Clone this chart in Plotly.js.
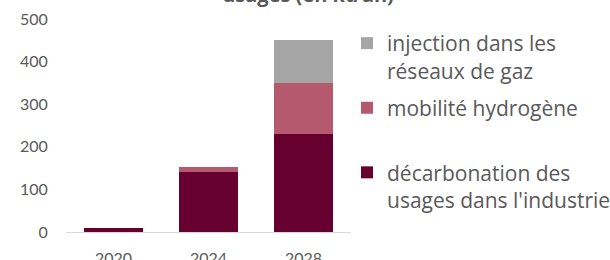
<!DOCTYPE html>
<html>
<head>
<meta charset="utf-8">
<script src="https://cdn.plot.ly/plotly-3.0.1.min.js"></script>
<style>html,body{margin:0;padding:0;background:#fff;}#chart{width:610px;height:260px;}</style>
</head>
<body>
<div id="chart"></div>
<script>
const years = ["2020", "2024", "2028"];
const decarbonation = [10, 142, 230];
const mobilite = [0, 10, 120];
const injection = [0, 0, 100];
const seriesNames = ["décarbonation des<br>usages dans l'industrie", "mobilité hydrogène<br> ", "injection dans les<br>réseaux de gaz"];
const seriesColors = ["#65002F", "#B5596E", "#A5A5A5"];
const legendRanks = [3, 2, 1];
const yTicks = [0, 100, 200, 300, 400, 500];
const titleText = "usages (en kt/an)";

const FONT = "Lato, 'Open Sans', sans-serif";
const LFONT = "'Open Sans', sans-serif";
const TXT = "#595959";

const values = [decarbonation, mobilite, injection];
const traces = values.map((v, i) => ({
  type: "bar",
  x: years,
  y: v,
  name: seriesNames[i],
  legendgroup: "g" + i,
  legendrank: legendRanks[i],
  marker: {color: seriesColors[i], line: {width: 0}},
  hoverinfo: "x+y+name"
}));

const layout = {
  width: 610, height: 260,
  margin: {l: 66, r: 259, t: 19, b: 28, pad: 0, autoexpand: false},
  paper_bgcolor: "#fff", plot_bgcolor: "#fff",
  barmode: "stack",
  bargap: 0.38,
  font: {family: FONT, color: TXT},
  title: {
    text: titleText,
    font: {family: LFONT, size: 20, color: TXT, weight: "bold"},
    x: 0.505, xanchor: "center",
    yref: "container", y: 1 - 2/260, yanchor: "bottom"
  },
  xaxis: {
    type: "category",
    showgrid: false, zeroline: false,
    showline: true, linecolor: "#D9D9D9", linewidth: 1,
    ticks: "outside", ticklen: 12, tickcolor: "rgba(0,0,0,0)",
    tickfont: {family: FONT, size: 16, color: TXT},
    fixedrange: true
  },
  yaxis: {
    range: [0, 500],
    tickvals: yTicks,
    ticktext: yTicks.map(String),
    showgrid: false, zeroline: false, showline: false,
    ticks: "outside", ticklen: 14, tickcolor: "rgba(0,0,0,0)",
    tickfont: {family: FONT, size: 16, color: TXT},
    fixedrange: true
  },
  showlegend: true,
  legend: {
    xref: "container", yref: "container",
    x: 347/610, xanchor: "left",
    y: 1 - 23/260, yanchor: "top",
    traceorder: "grouped",
    tracegroupgap: 7,
    valign: "top",
    maxheight: 260,
    font: {family: LFONT, size: 21, color: TXT},
    bgcolor: "rgba(0,0,0,0)"
  }
};

Plotly.newPlot("chart", traces, layout, {displayModeBar: false, staticPlot: true});
</script>
</body>
</html>
